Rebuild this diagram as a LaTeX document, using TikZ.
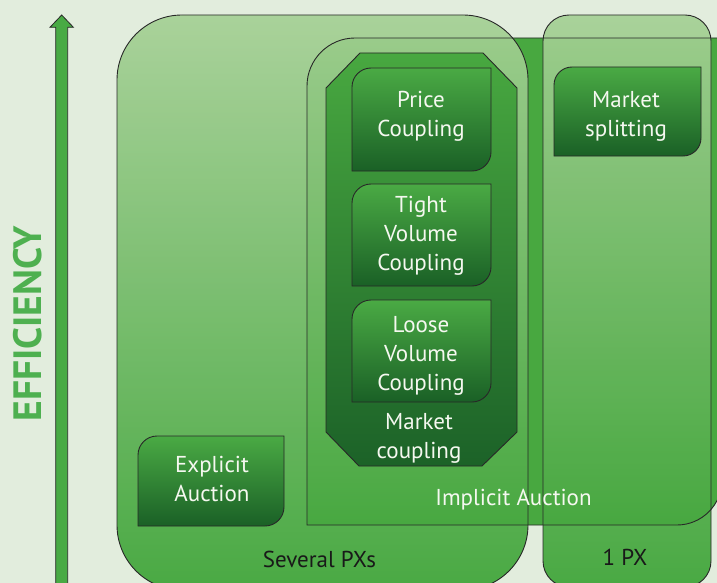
\documentclass[tikz,border=0pt]{standalone}
\usepackage{fontspec}
\usepackage{graphicx}
\setmainfont{PT Sans}
\definecolor{bgc}{RGB}{226,237,221}
\definecolor{implc}{RGB}{72,168,64}
\definecolor{bigtop}{RGB}{165,208,149}
\definecolor{bigbot}{RGB}{61,164,55}
\definecolor{smtop}{RGB}{74,170,68}
\definecolor{smbot}{RGB}{26,96,38}
\definecolor{octtop}{RGB}{72,168,64}
\definecolor{octbot}{RGB}{28,98,40}
\definecolor{olc}{RGB}{40,40,40}
\definecolor{wtc}{RGB}{245,248,240}
\definecolor{dtc}{RGB}{25,25,25}
\definecolor{effc}{RGB}{78,176,80}
\definecolor{arrowc}{RGB}{72,170,68}
\newcommand\leafbox[6][]{%
  \path[#1] (#2,#5) -- (#2,{#3+#6}) .. controls (#2,{#3+0.448*#6}) and ({#2+0.448*#6},#3) .. ({#2+#6},#3)
    -- (#4,#3) -- (#4,{#5-#6}) .. controls (#4,{#5-0.448*#6}) and ({#4-0.448*#6},#5) .. ({#4-#6},#5) -- cycle;}
\begin{document}
\begin{tikzpicture}[x=1pt,y=-1pt,
  outl/.style={draw=olc, line width=0.9pt},
  bigbox/.style={top color=bigtop, bottom color=bigbot, fill opacity=0.92},
  smallbox/.style={top color=smtop, bottom color=smbot, draw=olc, line width=0.9pt},
  wtxt/.style={text=wtc, font=\fontsize{23}{29}\selectfont, align=center, inner sep=0pt},
  dtxt/.style={text=dtc, font=\fontsize{23}{29}\selectfont, align=center, inner sep=0pt}]
\useasboundingbox (0,0) rectangle (717,583);
\fill[bgc] (0,0) rectangle (717,583);
\begin{scope}
\clip (0,0) rectangle (717,583);
% implicit auction region
\fill[implc] (307,525) -- (307,86) .. controls (307,59.5) and (328.5,38) .. (355,38) -- (722,38) -- (722,480) .. controls (722,504.8) and (701.8,525) .. (677,525) -- cycle;
% several PXs and 1 PX
\path[bigbox, rounded corners=65pt] (117,15) rectangle (528,590);
\path[bigbox, rounded corners=26pt] (543,15) rectangle (711,587);
% outlines
\draw[outl] (307,525) -- (307,86) .. controls (307,59.5) and (328.5,38) .. (355,38) -- (722,38) -- (722,480) .. controls (722,504.8) and (701.8,525) .. (677,525) -- cycle;
\draw[outl, rounded corners=65pt] (117,15) rectangle (528,590);
\draw[outl, rounded corners=26pt] (543,15) rectangle (711,587);
% arrow
\filldraw[fill=arrowc, draw=olc, line width=0.8pt] (55.7,600) -- (55.7,27.3) -- (50,27.3) -- (61.7,15) -- (73.4,27.3) -- (67.7,27.3) -- (67.7,600) -- cycle;
\end{scope}
% market coupling octagon
\path[top color=octtop, bottom color=octbot, draw=olc, line width=0.9pt]
  (326,88) -- (360,53) -- (483,53) -- (517,88) -- (517,432) -- (482,466) -- (359,466) -- (326,432) -- cycle;
% small boxes
\leafbox[smallbox]{352}{68}{491}{171}{19}
\leafbox[smallbox]{352}{184}{491}{286}{19}
\leafbox[smallbox]{352}{300}{491}{402}{19}
\leafbox[smallbox]{554}{67}{701}{156}{18}
\leafbox[smallbox]{138}{436}{284}{526}{19}
% texts
\node[wtxt] (price) at (421,116.5) {Price\\Coupling};
\node[wtxt] (tight) at (421,236) {Tight\\Volume\\Coupling};
\node[wtxt] (loose) at (421,355.5) {Loose\\Volume\\Coupling};
\node[wtxt] (mc) at (419,438) {Market\\coupling};
\node[wtxt] (ms) at (626,116.5) {Market\\splitting};
\node[wtxt] (ea) at (212,479) {Explicit\\Auction};
\node[wtxt] (ia) at (513.5,500) {Implicit Auction};
\node[dtxt] (sp) at (319.5,559) {Several PXs};
\node[dtxt] (px) at (625,557.5) {1 PX};
\node[text=effc, inner sep=0pt, rotate=90, font=\fontsize{39.5}{40}\selectfont\bfseries] (eff) at (28,324) {EFFICIENCY};
\end{tikzpicture}
\end{document}
